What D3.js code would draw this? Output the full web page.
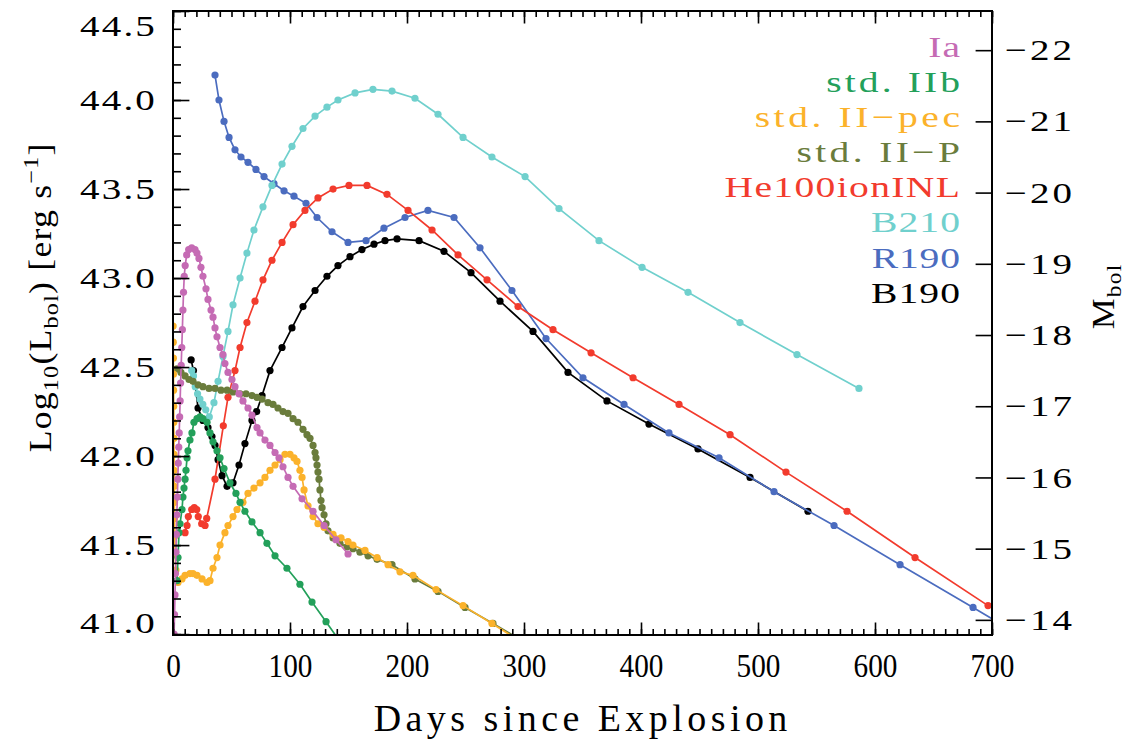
<!DOCTYPE html>
<html>
<head>
<meta charset="utf-8">
<script src="https://cdn.jsdelivr.net/npm/d3@7"></script>
<style>
  body { margin: 0; background: #fff; }
  svg { display: block; }
  text { font-family: "Liberation Serif", serif; }
</style>
</head>
<body>
<div id="chart"></div>
<script>
// light curves, days since explosion / log10 L_bol [erg s^-1]
const daysB190 = [15.5, 17.5, 21.4, 25.6, 29.9, 33.3, 35.9, 38.5, 41.9, 46.2, 51.3, 56.4, 61.5, 67.5, 71.5, 76.1, 82.9, 93.2, 101.7, 111.1, 121.4, 131.6, 141.0, 151.3, 161.5, 171.8, 181.2, 191.5, 210.3, 231.6, 254.7, 279.5, 307.7, 337.6, 370.9, 406.8, 448.7, 493.2, 542.7];
const lumB190 = [42.54, 42.48, 42.27, 42.20, 42.16, 42.11, 42.06, 41.98, 41.89, 41.83, 41.85, 41.95, 42.07, 42.20, 42.25, 42.34, 42.48, 42.61, 42.72, 42.84, 42.93, 43.01, 43.07, 43.12, 43.16, 43.19, 43.21, 43.22, 43.21, 43.15, 43.03, 42.87, 42.70, 42.47, 42.31, 42.18, 42.04, 41.88, 41.69];

const daysR190 = [35.9, 39.3, 43.6, 47.9, 53.0, 58.1, 64.1, 70.9, 77.8, 86.3, 94.9, 103.4, 113.7, 123.1, 135.9, 149.6, 165.0, 180.3, 198.3, 217.9, 240.2, 262.4, 289.7, 318.8, 350.4, 385.5, 423.9, 466.7, 513.7, 565.0, 621.4, 683.8, 745.0];
const lumR190 = [44.14, 44.00, 43.88, 43.79, 43.72, 43.68, 43.65, 43.61, 43.57, 43.53, 43.49, 43.46, 43.42, 43.34, 43.26, 43.20, 43.21, 43.28, 43.34, 43.38, 43.34, 43.17, 42.93, 42.66, 42.44, 42.29, 42.13, 41.99, 41.80, 41.61, 41.39, 41.15, 40.91];

const daysB210 = [16, 17.5, 19, 21, 23, 25.5, 28, 31, 35, 38.5, 42.7, 47, 51.3, 57.3, 63.2, 69.2, 76.9, 84.6, 93.2, 101.7, 111.1, 121.4, 131.6, 141, 155.6, 170.9, 187.2, 206.8, 226.5, 247.9, 272.6, 300.9, 329.9, 364.1, 400.9, 440.2, 484.6, 533.3, 586.3];
const lumB210 = [42.48, 42.45, 42.39, 42.35, 42.32, 42.29, 42.26, 42.22, 42.30, 42.42, 42.56, 42.70, 42.85, 43.00, 43.14, 43.27, 43.40, 43.52, 43.64, 43.74, 43.84, 43.91, 43.96, 44.00, 44.04, 44.06, 44.05, 44.01, 43.92, 43.79, 43.68, 43.57, 43.39, 43.21, 43.06, 42.92, 42.75, 42.57, 42.38];

const daysHe100 = [10.3, 12.0, 13.1, 16.0, 18.2, 20.3, 21.6, 24.5, 27.4, 28.8, 35.9, 43.0, 47.0, 53.0, 57.3, 63.2, 70.1, 76.9, 84.6, 93.2, 102.6, 112.8, 123.9, 136.8, 150.4, 165.8, 182.9, 200.9, 221.4, 243.6, 268.4, 294.9, 324.8, 357.3, 393.2, 432.5, 476.1, 523.9, 576.1, 634.2, 696.6];
const lumHe100 = [41.57, 41.61, 41.66, 41.70, 41.71, 41.70, 41.66, 41.62, 41.61, 41.65, 41.87, 42.17, 42.33, 42.48, 42.61, 42.75, 42.87, 42.99, 43.10, 43.20, 43.30, 43.38, 43.45, 43.50, 43.52, 43.52, 43.47, 43.38, 43.27, 43.13, 42.99, 42.84, 42.71, 42.58, 42.44, 42.29, 42.12, 41.91, 41.69, 41.43, 41.16];

const daysIIP = [3.4, 6.8, 10.3, 13.7, 17.1, 21.4, 25.6, 30.8, 35.9, 41.0, 46.2, 51.3, 57.3, 62.4, 67.5, 71.8, 76.1, 81.2, 85.5, 89.7, 94.0, 98.3, 102.6, 106.8, 111.1, 114.5, 117.1, 119.7, 121.4, 122.2, 123.1, 123.9, 124.8, 125.6, 126.5, 127.4, 129.1, 130.8, 132.5, 136.8, 142.7, 148.7, 153.8, 159.8, 166.7, 174.4, 187.2, 206.8, 226.5, 249.6, 273.5, 296.6];
const lumIIP = [42.49, 42.47, 42.45, 42.43, 42.42, 42.40, 42.39, 42.38, 42.38, 42.37, 42.37, 42.36, 42.35, 42.35, 42.34, 42.33, 42.32, 42.30, 42.29, 42.27, 42.25, 42.24, 42.21, 42.19, 42.15, 42.12, 42.10, 42.06, 42.02, 41.99, 41.95, 41.91, 41.87, 41.81, 41.75, 41.71, 41.67, 41.62, 41.58, 41.54, 41.51, 41.49, 41.48, 41.46, 41.44, 41.42, 41.39, 41.31, 41.24, 41.15, 41.06, 40.97];

const daysIIpec = [0.1, 0.2, 0.3, 0.4, 0.5, 0.6, 0.7, 0.8, 0.9, 1.0, 1.1, 1.2, 1.3, 1.5, 1.8, 2.5, 4.3, 7.7, 10.3, 14.5, 17.1, 20.5, 24.8, 29.1, 31.6, 34.2, 37.6, 40.2, 44.4, 47.0, 51.3, 54.7, 59.8, 64.1, 69.2, 74.4, 78.6, 82.9, 87.2, 91.5, 95.7, 100.0, 103.4, 106.0, 108.5, 110.3, 112.0, 115.4, 119.7, 123.9, 129.1, 136.8, 143.6, 149.6, 153.8, 164.1, 174.4, 183.8, 194.0, 205.1, 224.8, 247.9, 272.6, 296.6];
const lumIIpec = [42.73, 42.64, 42.55, 42.46, 42.37, 42.28, 42.19, 42.10, 42.01, 41.92, 41.83, 41.74, 41.65, 41.55, 41.45, 41.36, 41.29, 41.31, 41.33, 41.34, 41.34, 41.33, 41.31, 41.29, 41.30, 41.37, 41.43, 41.50, 41.57, 41.61, 41.66, 41.70, 41.74, 41.79, 41.82, 41.85, 41.88, 41.92, 41.95, 41.98, 42.01, 42.01, 41.99, 41.97, 41.92, 41.88, 41.81, 41.72, 41.66, 41.62, 41.60, 41.56, 41.54, 41.52, 41.50, 41.47, 41.43, 41.39, 41.35, 41.33, 41.25, 41.16, 41.06, 40.96];

const daysIIb = [3.4, 4.3, 5.1, 6.0, 7.7, 8.5, 9.4, 10.3, 11.1, 12.0, 12.8, 14.5, 16.2, 17.9, 20.5, 23.1, 25.6, 29.1, 31.6, 34.2, 37.6, 40.2, 43.6, 48.7, 53.8, 57.3, 61.5, 67.5, 74.4, 80.3, 87.2, 97.4, 108.5, 118.8, 130.8, 142.5];
const lumIIb = [41.30, 41.43, 41.57, 41.62, 41.70, 41.77, 41.82, 41.87, 41.92, 41.99, 42.03, 42.09, 42.13, 42.19, 42.21, 42.22, 42.21, 42.19, 42.13, 42.08, 42.03, 41.99, 41.93, 41.85, 41.79, 41.74, 41.69, 41.63, 41.57, 41.51, 41.44, 41.37, 41.28, 41.18, 41.07, 40.96];

const daysIa = [0.5, 0.9, 1.3, 1.7, 2.1, 2.5, 2.9, 3.3, 3.7, 4.1, 4.5, 4.9, 5.3, 5.7, 6.1, 6.5, 7.0, 7.5, 8.0, 8.5, 9.0, 9.6, 10.4, 11.7, 13.4, 16.0, 18.8, 20.5, 22.2, 23.9, 25.6, 28.2, 29.9, 32.5, 34.2, 35.9, 37.6, 40.2, 42.7, 44.4, 47.0, 50.4, 53.0, 56.4, 59.8, 64.1, 67.5, 71.8, 74.4, 78.6, 82.9, 87.2, 90.6, 94.0, 98.3, 102.6, 110.3, 119.7, 129.1, 139.3, 149.6];
const lumIa = [40.70, 41.00, 41.11, 41.22, 41.34, 41.46, 41.56, 41.67, 41.77, 41.87, 41.96, 42.05, 42.13, 42.22, 42.31, 42.41, 42.51, 42.61, 42.71, 42.82, 42.92, 43.01, 43.07, 43.13, 43.16, 43.17, 43.16, 43.14, 43.11, 43.06, 43.01, 42.94, 42.88, 42.82, 42.78, 42.72, 42.67, 42.61, 42.57, 42.52, 42.47, 42.43, 42.39, 42.35, 42.31, 42.27, 42.23, 42.16, 42.13, 42.09, 42.06, 42.02, 41.99, 41.94, 41.88, 41.83, 41.76, 41.69, 41.61, 41.53, 41.45];

// legend order, top to bottom
const legendNames = ["Ia", "std. IIb", "std. II\u2212pec", "std. II\u2212P", "He100ionINL", "B210", "R190", "B190"];
const legendColors = ["#c56bb4", "#23a05a", "#fbb22b", "#6a7c3c", "#f23b2d", "#70d0cd", "#4b6cbf", "#000000"];
const legendWidths = [33, 137, 209, 167, 237, 90, 89, 90];

const xTicks = [0, 100, 200, 300, 400, 500, 600, 700];
const yTicks = [41.0, 41.5, 42.0, 42.5, 43.0, 43.5, 44.0, 44.5];
const magTicks = [-22, -21, -20, -19, -18, -17, -16, -15, -14];
const magZero = 88.70; // M_bol = magZero - 2.5 log10(L)

// drawn back to front
const series = [
    { days: daysB190, lum: lumB190, color: "#000000" },
    { days: daysR190, lum: lumR190, color: "#4b6cbf" },
    { days: daysB210, lum: lumB210, color: "#70d0cd" },
    { days: daysHe100, lum: lumHe100, color: "#f23b2d" },
    { days: daysIIP, lum: lumIIP, color: "#6a7c3c" },
    { days: daysIIpec, lum: lumIIpec, color: "#fbb22b" },
    { days: daysIIb, lum: lumIIb, color: "#23a05a" },
    { days: daysIa, lum: lumIa, color: "#c56bb4" },
];

const width = 1138, height = 741;
const box = { left: 173, right: 992, top: 11, bottom: 635 };

const svg = d3.select("#chart").append("svg")
    .attr("width", width)
    .attr("height", height);

const x = d3.scaleLinear().domain([0, 700]).range([box.left, box.right]);
const y = d3.scaleLinear().domain([40.995, 44.5]).range([box.bottom, box.top]);
const yMag = d3.scaleLinear()
    .domain([magZero - 2.5 * 40.995, magZero - 2.5 * 44.5])
    .range([box.bottom, box.top]);

// stretch a text element horizontally around its anchor x
function stretch(node, sx) {
    const t = d3.select(node);
    const ax = +t.attr("x") || 0;
    t.attr("transform", `translate(${ax},0) scale(${sx},1) translate(${-ax},0)`);
}
// glyph stretch, the rest of the width made up with letter spacing
function fitText(node, w, sx) {
    const t = d3.select(node);
    const w0 = node.getBBox().width;
    const n = node.getNumberOfChars();
    const ls = Math.max(0, (w / sx - w0) / n);
    t.attr("letter-spacing", ls.toFixed(2));
    if (t.attr("text-anchor") === "end") t.attr("dx", ls.toFixed(2));
    if (t.attr("text-anchor") === "middle") t.attr("dx", (ls / 2).toFixed(2));
    stretch(node, sx);
}

svg.append("clipPath").attr("id", "plotclip")
    .append("rect")
    .attr("x", box.left).attr("y", box.top)
    .attr("width", box.right - box.left).attr("height", box.bottom - box.top);

const plot = svg.append("g").attr("clip-path", "url(#plotclip)");

const line = d3.line().x(d => x(d[0])).y(d => y(d[1]));

series.forEach(s => {
    const pts = s.days.map((d, i) => [d, s.lum[i]]);
    const g = plot.append("g");
    g.append("path")
        .datum(pts)
        .attr("fill", "none")
        .attr("stroke", s.color)
        .attr("stroke-width", 1.7)
        .attr("d", line);
    g.selectAll("circle")
        .data(pts)
        .join("circle")
        .attr("cx", d => x(d[0]))
        .attr("cy", d => y(d[1]))
        .attr("r", 3.6)
        .attr("fill", s.color);
});

// axes, IDL style with inward ticks
const minorX = d3.range(0, 701, 10);
const minorY = d3.range(41.0, 44.51, 0.1);

function styleAxis(g) {
    g.select(".domain").remove();
    g.selectAll("line").attr("stroke", "#000").attr("stroke-width", 1.6);
}

svg.append("g").attr("transform", `translate(0,${box.bottom})`)
    .call(d3.axisBottom(x).tickValues(minorX).tickSize(-6).tickFormat(""))
    .call(styleAxis);
svg.append("g").attr("transform", `translate(0,${box.top})`)
    .call(d3.axisTop(x).tickValues(minorX).tickSize(-6).tickFormat(""))
    .call(styleAxis);
svg.append("g").attr("transform", `translate(0,${box.top})`)
    .call(d3.axisTop(x).tickValues(xTicks).tickSize(-12.5).tickFormat(""))
    .call(styleAxis);

const xAxis = svg.append("g").attr("transform", `translate(0,${box.bottom})`)
    .call(d3.axisBottom(x).tickValues(xTicks).tickSize(-12.5).tickPadding(27).tickFormat(d3.format("d")))
    .call(styleAxis);
xAxis.selectAll("text")
    .attr("font-size", 34)
    .attr("fill", "#000")
    .attr("dy", "0.45em")
    .each(function () { stretch(this, 0.86); });

svg.append("g").attr("transform", `translate(${box.left},0)`)
    .call(d3.axisLeft(y).tickValues(minorY).tickSize(-8).tickFormat(""))
    .call(styleAxis);
const yAxis = svg.append("g").attr("transform", `translate(${box.left},0)`)
    .call(d3.axisLeft(y).tickValues(yTicks).tickSize(-16.4).tickPadding(16).tickFormat(d3.format(".1f")))
    .call(styleAxis);
// end labels are kept inside the frame
yAxis.selectAll("text")
    .attr("font-size", 30)
    .attr("fill", "#000")
    .attr("y", d => Math.min(Math.max(y(d), box.top + 15), box.bottom - 12) - y(d))
    .each(function () { fitText(this, 77, 1.3); });

const magAxis = svg.append("g").attr("transform", `translate(${box.right},0)`)
    .call(d3.axisRight(yMag).tickValues(magTicks).tickSize(-16.4).tickPadding(13).tickFormat(d => "\u2212" + Math.abs(d)))
    .call(styleAxis);
magAxis.selectAll("text")
    .attr("font-size", 30)
    .attr("fill", "#000")
    .each(function () { fitText(this, 70, 1.3); });

// frame
svg.append("rect")
    .attr("x", box.left).attr("y", box.top)
    .attr("width", box.right - box.left).attr("height", box.bottom - box.top)
    .attr("fill", "none")
    .attr("stroke", "#000")
    .attr("stroke-width", 2);

// axis titles
const xTitle = svg.append("text")
    .attr("x", (box.left + box.right) / 2 - 2)
    .attr("y", 731)
    .attr("text-anchor", "middle")
    .attr("font-size", 38)
    .text("Days since Explosion");
fitText(xTitle.node(), 418, 1.0);

const yTitleG = svg.append("g").attr("transform", "translate(51,298) rotate(-90)");
const yTitle = yTitleG.append("text")
    .attr("x", 0).attr("y", 0)
    .attr("text-anchor", "middle")
    .attr("font-size", 31);
yTitle.append("tspan").text("Log");
yTitle.append("tspan").attr("font-size", 21).attr("dy", 7).text("10");
yTitle.append("tspan").attr("dy", -7).text("(L");
yTitle.append("tspan").attr("font-size", 21).attr("dy", 7).text("bol");
yTitle.append("tspan").attr("dy", -7).text(") [erg s");
yTitle.append("tspan").attr("font-size", 21).attr("dy", -13).text("\u22121");
yTitle.append("tspan").attr("dy", 13).text("]");
fitText(yTitle.node(), 310, 1.15);

const magTitleG = svg.append("g").attr("transform", "translate(1114,297) rotate(-90)");
const magTitle = magTitleG.append("text")
    .attr("x", 0).attr("y", 0)
    .attr("text-anchor", "middle")
    .attr("font-size", 31);
magTitle.append("tspan").text("M");
magTitle.append("tspan").attr("font-size", 21).attr("dy", 7).text("bol");
fitText(magTitle.node(), 66, 1.12);

// legend, right aligned text
svg.append("g").selectAll("text")
    .data(legendNames)
    .join("text")
    .attr("x", 960)
    .attr("y", (d, i) => 57 + i * 35.1)
    .attr("text-anchor", "end")
    .attr("font-size", 30)
    .attr("fill", (d, i) => legendColors[i])
    .text(d => d)
    .each(function (d, i) { fitText(this, legendWidths[i], 1.32); });
</script>
</body>
</html>
